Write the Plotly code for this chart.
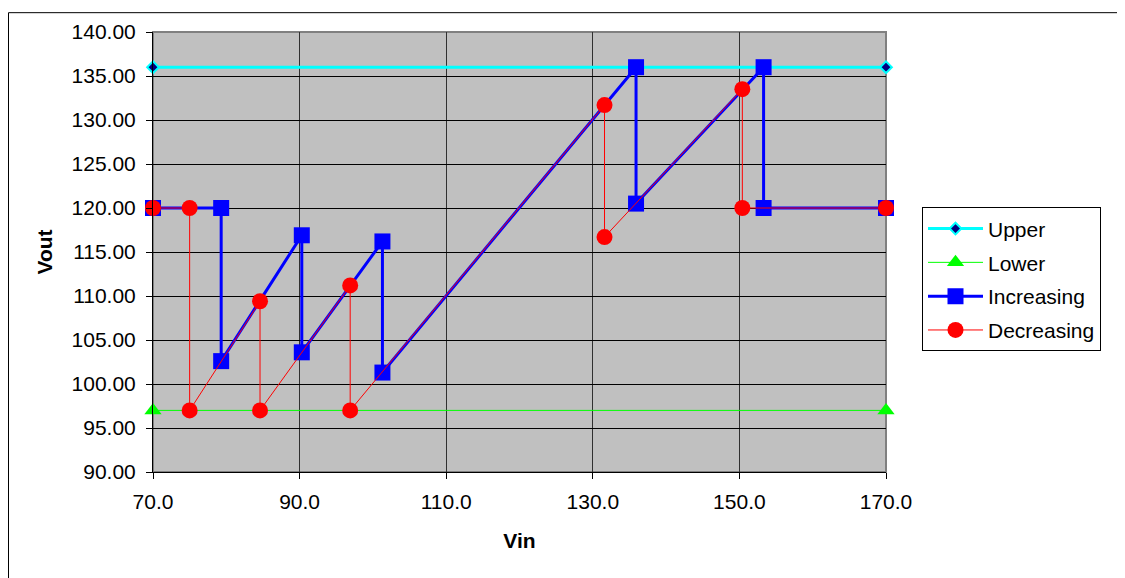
import plotly.graph_objects as go

# Data
upper_x = [70, 170]
upper_y = [136, 136]
lower_x = [70, 170]
lower_y = [97, 97]
inc_x = [70, 79.3, 79.3, 90.3, 90.3, 101.3, 101.3, 135.9, 135.9, 153.3, 153.3, 170]
inc_y = [120, 120, 102.6, 116.9, 103.6, 116.2, 101.3, 136, 120.5, 136, 120, 120]
dec_x = [170, 150.4, 150.4, 131.6, 131.6, 96.9, 96.9, 84.6, 84.6, 75.0, 75.0, 70]
dec_y = [120, 120, 133.5, 116.7, 131.7, 97, 111.2, 97, 109.4, 97, 120, 120]

x_ticks = [70, 90, 110, 130, 150, 170]
y_ticks = [90, 95, 100, 105, 110, 115, 120, 125, 130, 135, 140]

FONT = "Liberation Sans, Arial, sans-serif"
FS = 21

fig = go.Figure()
fig.add_trace(go.Scatter(x=upper_x, y=upper_y, name="Upper", mode="lines+markers",
                         legendgroup="g1",
                         line=dict(color="#00FFFF", width=3),
                         marker=dict(symbol="diamond", size=9, color="#000080",
                                     line=dict(color="#00FFFF", width=2)),
                         cliponaxis=False))
fig.add_trace(go.Scatter(x=lower_x, y=lower_y, name="Lower", mode="lines+markers",
                         legendgroup="g2",
                         line=dict(color="#00FF00", width=1),
                         marker=dict(symbol="triangle-up", size=15, color="#00FF00"),
                         cliponaxis=False))
fig.add_trace(go.Scatter(x=inc_x, y=inc_y, name="Increasing", mode="lines+markers",
                         legendgroup="g3",
                         line=dict(color="#0000FF", width=3),
                         marker=dict(symbol="square", size=16, color="#0000FF"),
                         cliponaxis=False))
fig.add_trace(go.Scatter(x=dec_x, y=dec_y, name="Decreasing", mode="lines+markers",
                         legendgroup="g4",
                         line=dict(color="#FF0000", width=1),
                         marker=dict(symbol="circle", size=16, color="#FF0000"),
                         cliponaxis=False))

# The page body adds an 8px offset; figure sized to fit the window.
W, H = 1117, 570
L, T, R, B = 145, 20, 239, 106
PW = W - L - R
PH = H - T - B

fig.update_layout(
    width=W, height=H,
    margin=dict(l=L, r=R, t=T, b=B),
    paper_bgcolor="white",
    plot_bgcolor="#C0C0C0",
    font=dict(family=FONT, size=FS, color="black"),
    showlegend=True,
    legend=dict(x=(922 - 153) / PW, y=(472 - 205) / PH, xanchor="left", yanchor="top",
                bgcolor="white", bordercolor="black", borderwidth=1,
                font=dict(family=FONT, size=FS, color="black"),
                itemwidth=55, tracegroupgap=3.5, traceorder="grouped"),
    xaxis=dict(range=[70, 170], tickvals=x_ticks,
               ticktext=[f"{v:.1f}" for v in x_ticks],
               showgrid=True, gridcolor="#303030", gridwidth=1,
               zeroline=False, showline=True, linecolor="black", linewidth=1,
               ticks="outside", ticklen=6, tickcolor="black",
               tickfont=dict(family=FONT, size=FS),
               ticklabelstandoff=5,
               title=dict(text="<b>Vin</b>", font=dict(family=FONT, size=FS), standoff=21)),
    yaxis=dict(range=[90, 140], tickvals=y_ticks,
               ticktext=[f"{v:.2f}" for v in y_ticks],
               showgrid=True, gridcolor="black", gridwidth=1,
               zeroline=False, showline=True, linecolor="black", linewidth=1,
               ticks="outside", ticklen=6, tickcolor="black",
               tickfont=dict(family=FONT, size=FS),
               ticklabelstandoff=6,
               title=dict(text="<b>Vout</b>", font=dict(family=FONT, size=FS), standoff=13)),
)
# plot-area border (grey)
fig.add_shape(type="rect", xref="paper", yref="paper", x0=0, x1=1, y0=0, y1=1,
              line=dict(color="#808080", width=2), layer="between")
# outer chart border (left and top edges, at the very edge of the figure)
bx = (0.5 - L) / PW
by = (PH + T - 0.5) / PH
fig.add_shape(type="line", xref="paper", yref="paper",
              x0=bx, x1=bx, y0=-1, y1=by, line=dict(color="black", width=1))
fig.add_shape(type="line", xref="paper", yref="paper",
              x0=bx, x1=2, y0=by, y1=by, line=dict(color="black", width=1))

fig.write_html("out.html")
